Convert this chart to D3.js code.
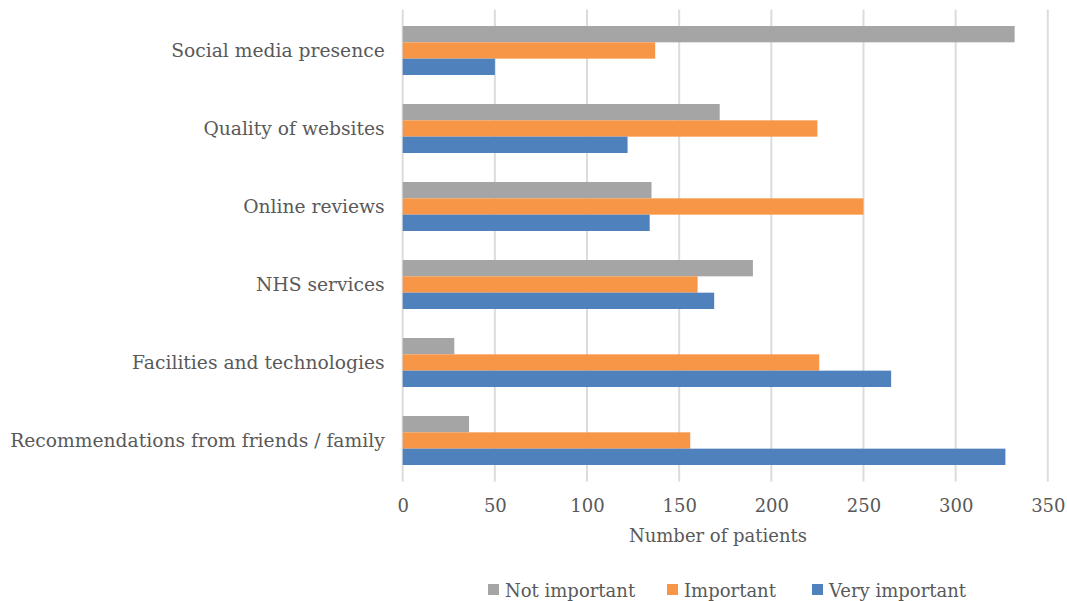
<html>
<head>
<style>
  body { margin: 0; background: #fff; }
  text { font-family: "DejaVu Serif", "Liberation Serif", serif; fill: #595959; }
</style>
</head>
<body>
<svg id="chart" width="1067" height="601"></svg>
<script src="https://cdn.jsdelivr.net/npm/d3@7"></script>
<script>
// data
const categories = ['Social media presence', 'Quality of websites', 'Online reviews',
  'NHS services', 'Facilities and technologies', 'Recommendations from friends / family']
const seriesNames = ['Not important', 'Important', 'Very important']
const notImportant = [332, 172, 135, 190, 28, 36]
const important = [137, 225, 250, 160, 226, 156]
const veryImportant = [50, 122, 134, 169, 265, 327]
const xTicks = [0, 50, 100, 150, 200, 250, 300, 350]
const colors = ['#a5a5a5', '#f79646', '#4f81bd']

const values = [notImportant, important, veryImportant]
const rows = categories.map((c, i) => ({ cat: c, vals: values.map(v => v[i]) }))

const svg = d3.select('#chart')
const margin = { top: 11.5, left: 402.7, right: 1067 - 1047.8, bottom: 601 - 479.5 }
const W = 1067 - margin.left - margin.right
const H = 601 - margin.top - margin.bottom

const x = d3.scaleLinear().domain([0, 350]).range([0, W])
const y = d3.scaleBand().domain(categories).range([0, H]).paddingInner(0.372).paddingOuter(0.186)
const ySub = d3.scaleBand().domain(seriesNames).range([0, y.bandwidth()])

const g = svg.append('g').attr('transform', `translate(${margin.left},${margin.top})`)

// vertical gridlines
g.append('g').selectAll('line').data(xTicks).join('line')
  .attr('x1', d => x(d)).attr('x2', d => x(d))
  .attr('y1', -2).attr('y2', H + 2)
  .attr('stroke', '#dcdcdc').attr('stroke-width', 2)

// bars
const groups = g.selectAll('.grp').data(rows).join('g').attr('class', 'grp')
  .attr('transform', d => `translate(0,${y(d.cat)})`)
groups.selectAll('rect').data(d => d.vals.map((v, i) => ({ v, i }))).join('rect')
  .attr('x', 0).attr('y', d => ySub(seriesNames[d.i]))
  .attr('width', d => x(d.v)).attr('height', ySub.bandwidth())
  .attr('fill', d => colors[d.i])

// category labels, centred on the group
g.append('g').selectAll('text').data(categories).join('text')
  .attr('x', -18).attr('y', d => y(d) + y.bandwidth() / 2)
  .attr('text-anchor', 'end').attr('dominant-baseline', 'central')
  .attr('font-size', 18.7).text(d => d)

// x axis labels
const xAxis = g.append('g').attr('transform', `translate(0,${H})`)
  .call(d3.axisBottom(x).tickValues(xTicks).tickSize(0).tickPadding(20))
xAxis.select('.domain').remove()
xAxis.selectAll('text').attr('font-size', 18).attr('fill', '#595959').attr('font-family', null)

g.append('text').attr('x', 718 - margin.left).attr('y', H + 56)
  .attr('text-anchor', 'middle').attr('dominant-baseline', 'central')
  .attr('font-size', 18).text('Number of patients')

// legend
const legendX = [488, 667, 812]
const leg = svg.append('g').selectAll('g').data(seriesNames).join('g')
  .attr('transform', (d, i) => `translate(${legendX[i]},590)`)
leg.append('rect').attr('x', 0).attr('y', -6).attr('width', 11).attr('height', 11)
  .attr('fill', (d, i) => colors[i])
leg.append('text').attr('x', 17).attr('y', 0).attr('dominant-baseline', 'central')
  .attr('font-size', 18).text(d => d)
</script>
</body>
</html>
